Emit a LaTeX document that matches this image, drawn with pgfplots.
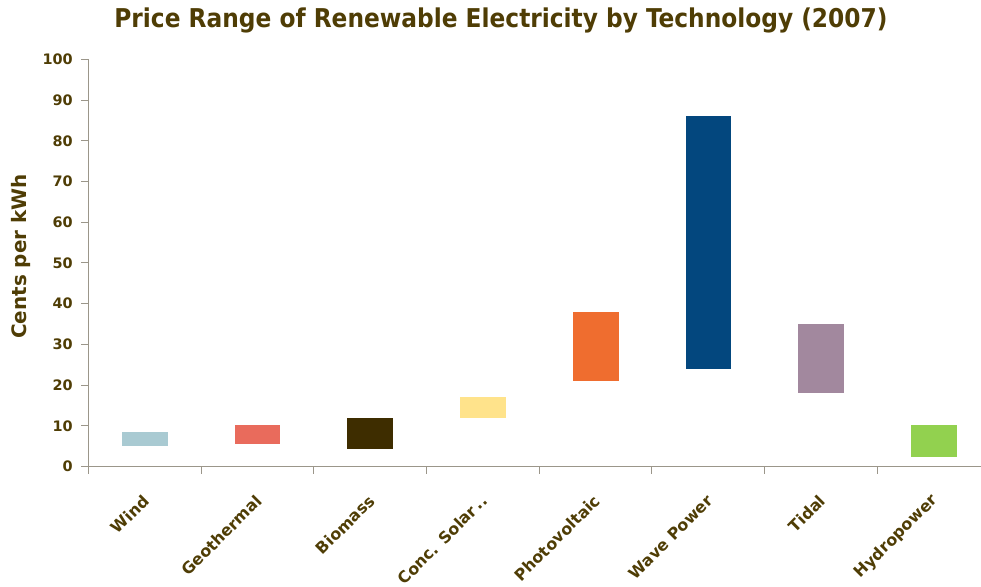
\documentclass[border=0pt]{standalone}
\usepackage{pgfplots}
\pgfplotsset{compat=1.18}
\usepackage{pgfplotstable}
\usepackage{fontspec}
\setmainfont{DejaVu Sans}
\newfontfamily\condfont{DejaVu Sans Condensed}
\definecolor{txt}{RGB}{79,61,5}
\definecolor{axc}{RGB}{155,150,138}
\definecolor{c0}{HTML}{A9CAD2}
\definecolor{c1}{HTML}{E96B5C}
\definecolor{c2}{HTML}{3E2D00}
\definecolor{c3}{HTML}{FFE38B}
\definecolor{c4}{HTML}{EF6D2F}
\definecolor{c5}{HTML}{03477E}
\definecolor{c6}{HTML}{A2889E}
\definecolor{c7}{HTML}{92D14F}
\pgfplotstableread{
x low high
0 5.0 8.8
1 5.5 10.4
2 4.2 12.1
3 12.0 17.2
4 21.0 38.2
5 24.0 86.2
6 18.0 35.3
7 2.2 10.3
}\pricedata
\begin{document}
\begin{tikzpicture}
\useasboundingbox (-88.3bp,-120.3bp) rectangle (892.7bp,466.7bp);
\begin{axis}[
  at={(0,0)}, anchor=south west,
  scale only axis, width=892.7bp, height=407.4bp,
  xmin=-0.5, xmax=7.42, ymin=0, ymax=100,
  ybar stacked, bar width=46.7bp,
  axis x line*=bottom, axis y line*=left,
  axis line style={axc, line width=1bp, -},
  xtick={0,...,7},
  xticklabels={Wind,Geothermal,Biomass,Conc. Solar\,..,Photovoltaic,Wave Power,Tidal,Hydropower},
  minor xtick={-0.5,0.5,...,6.5},
  major x tick style={draw=none},
  minor x tick style={axc, line width=1bp},
  minor tick length=7bp,
  ytick={0,10,...,100},
  y tick style={axc, line width=1bp},
  major tick length=7bp,
  tick align=outside,
  /pgf/number format/assume math mode=true,
  xticklabel style={font=\bfseries\fontsize{16}{19}\selectfont, text=txt, xshift=4bp, yshift=-22bp, rotate=45, anchor=east},
  yticklabel style={font=\bfseries\fontsize{14.5}{17}\selectfont, text=txt, anchor=east, xshift=-5bp},
  ylabel={Cents per kWh},
  every axis y label/.style={at={(axis description cs:-0.0754,0.516)}, rotate=90, anchor=center, font=\bfseries\fontsize{20}{24}\selectfont, text=txt},
  title={Price Range of Renewable Electricity by Technology (2007)},
  title style={at={(axis description cs:0.4623,1.064)}, anchor=base, font=\condfont\bfseries\fontsize{26}{30}\selectfont, text=txt},
]
\addplot[draw=none, fill=none] table[x=x, y=low] {\pricedata};
\pgfplotsinvokeforeach{0,...,7}{
  \addplot[fill=c#1, draw=white, line width=0.6bp] table[x=x, y expr={ifthenelse(\coordindex==#1, \thisrow{high}-\thisrow{low}, 0)}] {\pricedata};
}
\end{axis}
\end{tikzpicture}
\end{document}
